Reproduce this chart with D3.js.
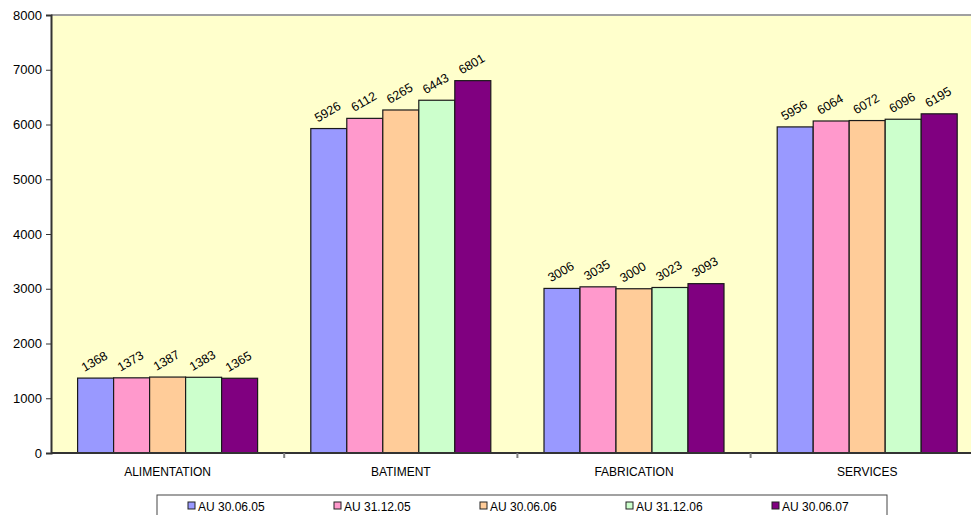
<!DOCTYPE html>
<html>
<head>
<meta charset="utf-8">
<script src="https://cdn.jsdelivr.net/npm/d3@7"></script>
<style>
  html, body { margin: 0; padding: 0; background: #fff; }
  svg { display: block; font-family: "Liberation Sans", Arial, sans-serif; }
</style>
</head>
<body>
<svg id="chart" width="971" height="515"></svg>
<script>
const categories = ["ALIMENTATION", "BATIMENT", "FABRICATION", "SERVICES"];
const seriesNames = ["AU 30.06.05", "AU 31.12.05", "AU 30.06.06", "AU 31.12.06", "AU 30.06.07"];
const seriesColors = ["#9999FF", "#FF99CC", "#FFCC99", "#CCFFCC", "#800080"];
const s0 = [1368, 5926, 3006, 5956];
const s1 = [1373, 6112, 3035, 6064];
const s2 = [1387, 6265, 3000, 6072];
const s3 = [1383, 6443, 3023, 6096];
const s4 = [1365, 6801, 3093, 6195];
const yTicks = [0, 1000, 2000, 3000, 4000, 5000, 6000, 7000, 8000];

const series = [s0, s1, s2, s3, s4];
const svg = d3.select("#chart");

const plot = { left: 51, top: 15, bottom: 453, right: 51 + 233.2 * 4 };

const x0 = d3.scaleBand().domain(categories).range([plot.left, plot.right]).paddingInner(0).paddingOuter(0);
const barW = 36;
const x1 = d3.scaleBand().domain(seriesNames).range([0, barW * 5]).padding(0);
const y = d3.scaleLinear().domain([0, 8000]).range([plot.bottom, plot.top]);

// plot background
svg.append("rect")
  .attr("x", plot.left).attr("y", plot.top)
  .attr("width", plot.right - plot.left).attr("height", plot.bottom - plot.top)
  .attr("fill", "#FFFFCC");

// top border line
svg.append("line")
  .attr("x1", plot.left).attr("x2", plot.right)
  .attr("y1", y(8000)).attr("y2", y(8000))
  .attr("stroke", "#A0A0A0").attr("stroke-width", 2);

// bars with rotated value labels
const groupOffset = (x0.bandwidth() - barW * 5) / 2;
const groups = svg.append("g").selectAll("g")
  .data(categories)
  .join("g")
  .attr("transform", d => `translate(${x0(d) + groupOffset},0)`);

groups.each(function(cat, ci) {
  const g = d3.select(this);
  seriesNames.forEach((name, si) => {
    const v = series[si][ci];
    g.append("rect")
      .attr("x", x1(name))
      .attr("y", y(v))
      .attr("width", x1.bandwidth())
      .attr("height", y(0) - y(v))
      .attr("fill", seriesColors[si])
      .attr("stroke", "#1a1a1a")
      .attr("stroke-width", 1.2);
    const cx = x1(name) + x1.bandwidth() / 2 + 1;
    const cy = y(v) - 13;
    g.append("text")
      .attr("transform", `translate(${cx},${cy}) rotate(-30)`)
      .attr("text-anchor", "middle")
      .attr("font-size", 12.5)
      .attr("fill", "#000")
      .text(v);
  });
});

// y axis
const yAxis = d3.axisLeft(y).tickValues(yTicks).tickSize(5).tickPadding(4).tickFormat(d3.format("d"));
const yg = svg.append("g").attr("transform", `translate(${plot.left},0)`).call(yAxis);
yg.select(".domain").attr("stroke", "#333").attr("stroke-width", 2);
yg.selectAll(".tick line").attr("stroke", "#333");
yg.selectAll(".tick text").attr("font-size", 13).attr("fill", "#000")
  .attr("font-family", "Liberation Sans, Arial, sans-serif");

// x axis baseline and category separators
svg.append("line")
  .attr("x1", plot.left).attr("x2", plot.right)
  .attr("y1", plot.bottom).attr("y2", plot.bottom)
  .attr("stroke", "#333").attr("stroke-width", 2);
categories.forEach((c, i) => {
  if (i === 0) return;
  svg.append("line")
    .attr("x1", x0(c)).attr("x2", x0(c))
    .attr("y1", plot.bottom).attr("y2", plot.bottom + 5)
    .attr("stroke", "#808080").attr("stroke-width", 2);
});
svg.append("g").selectAll("text")
  .data(categories)
  .join("text")
  .attr("x", d => x0(d) + x0.bandwidth() / 2)
  .attr("y", 476)
  .attr("text-anchor", "middle")
  .attr("font-size", 12)
  .attr("fill", "#000")
  .text(d => d);

// legend
const legend = svg.append("g");
legend.append("rect")
  .attr("x", 157).attr("y", 495)
  .attr("width", 730).attr("height", 30)
  .attr("fill", "#fff").attr("stroke", "#444").attr("stroke-width", 1);
const legX = d3.scaleBand().domain(seriesNames).range([157, 887]);
seriesNames.forEach((name, i) => {
  const lx = legX(name) + 31;
  legend.append("rect")
    .attr("x", lx).attr("y", 502)
    .attr("width", 7).attr("height", 7)
    .attr("fill", seriesColors[i]).attr("stroke", "#222").attr("stroke-width", 1);
  legend.append("text")
    .attr("x", lx + 10).attr("y", 511)
    .attr("font-size", 12)
    .attr("fill", "#000")
    .text(name);
});
</script>
</body>
</html>
